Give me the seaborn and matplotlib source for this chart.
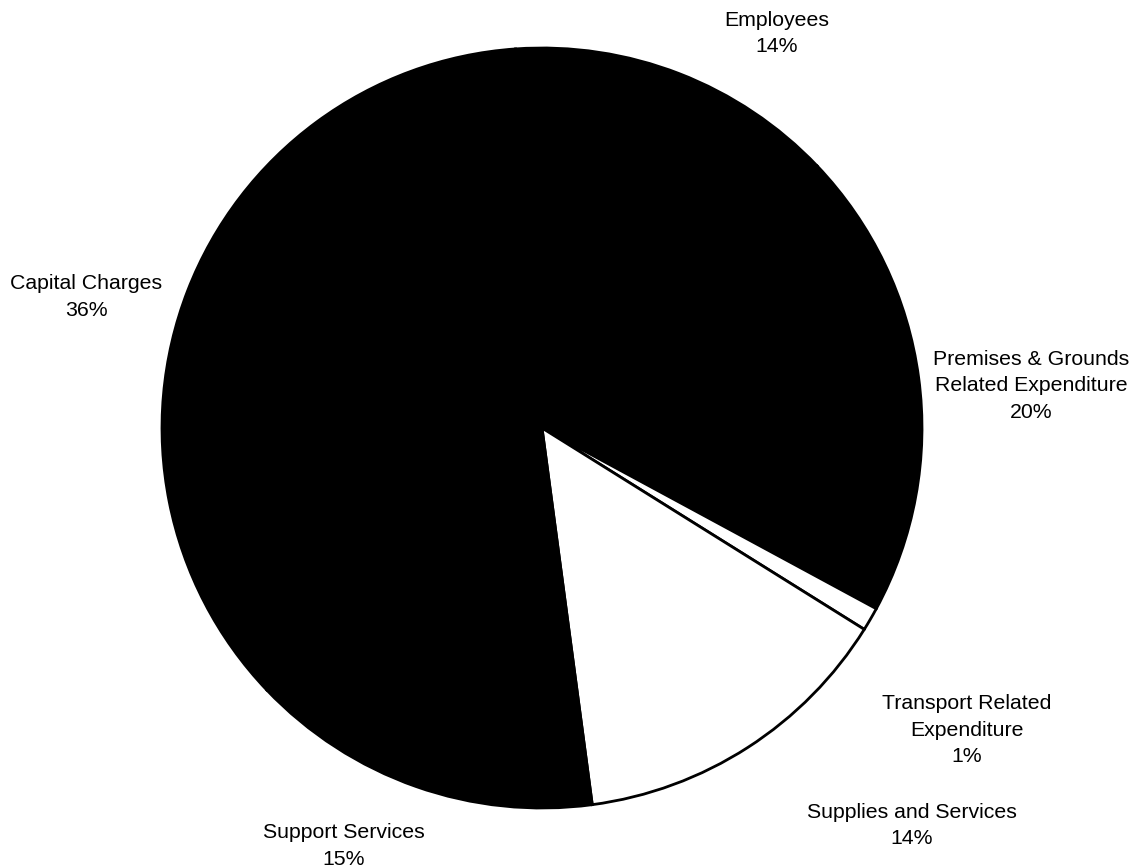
import matplotlib
matplotlib.use("Agg")
import matplotlib.pyplot as plt
import seaborn as sns

# Expenditure breakdown (percent), clockwise from the top
categories = ["Employees", "Premises & Grounds\nRelated Expenditure",
              "Transport Related\nExpenditure", "Supplies and Services",
              "Support Services", "Capital Charges"]
shares = [14, 20, 1, 14, 15, 36]
fills = ["black", "black", "white", "white", "black", "black"]

# label placement in pie units (radius = 1)
label_pos = [(0.618, 1.039), (1.287, 0.111), (1.118, -0.795),
             (0.974, -1.045), (-0.521, -1.100), (-1.200, 0.345)]

sns.set_theme(style="white")
plt.rcParams["font.family"] = ["Liberation Sans", "DejaVu Sans"]

fig = plt.figure(figsize=(11.37, 8.68), dpi=100)
ax = fig.add_axes([0, 0, 1, 1])

ax.pie(shares, colors=fills, startangle=94, counterclock=False,
       wedgeprops=dict(edgecolor="black", linewidth=2))

for name, pct, (x, y) in zip(categories, shares, label_pos):
    ax.text(x, y, f"{name}\n{pct}%", ha="center", va="center",
            fontsize=15.3, linespacing=1.48, color="black")

px = 380.0
ax.set_aspect("auto")
ax.set_xlim(-542 / px, (1137 - 542) / px)
ax.set_ylim(-(868 - 428) / px, 428 / px)
ax.axis("off")

fig.savefig("out.png", dpi=100, facecolor="white")
